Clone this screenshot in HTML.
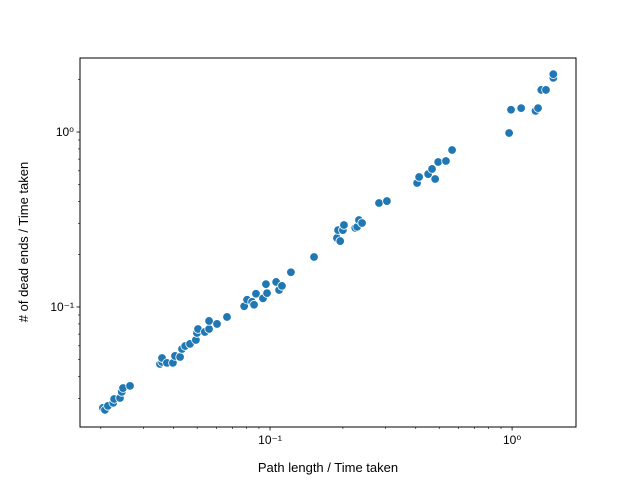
<!DOCTYPE html>
<html><head><meta charset="utf-8"><style>body{margin:0;background:#fff}svg{display:block}text{font-family:"Liberation Sans","DejaVu Sans",sans-serif}</style></head>
<body>
<svg id="chart" width="640" height="480" xmlns="http://www.w3.org/2000/svg">
<rect x="0" y="0" width="640" height="480" fill="#fff"/>
<g id="plot"></g>
<text x="328" y="472" font-size="13" text-anchor="middle">Path length / Time taken</text>
<text transform="translate(28,242) rotate(-90)" font-size="13" text-anchor="middle"># of dead ends / Time taken</text>
</svg>
<script>
const xVals=[0.0204,0.0208,0.0214,0.0225,0.0227,0.0240,0.0244,0.0247,0.0264,0.0351,0.0358,0.0358,0.0375,0.0397,0.0405,0.0425,0.0433,0.0446,0.0467,0.0494,0.0499,0.0504,0.0538,0.0560,0.0560,0.0604,0.0664,0.0782,0.0804,0.0843,0.0859,0.0875,0.0935,0.0972,0.0962,0.106,0.109,0.112,0.122,0.152,0.189,0.195,0.191,0.200,0.202,0.225,0.229,0.233,0.240,0.282,0.304,0.405,0.413,0.450,0.467,0.481,0.495,0.533,0.565,0.972,0.990,1.09,1.25,1.28,1.32,1.38,1.48,1.48];
const yVals=[0.0265,0.0258,0.0272,0.0283,0.0298,0.0302,0.0327,0.0344,0.0354,0.0472,0.0485,0.0511,0.0479,0.0479,0.0525,0.0518,0.0575,0.0598,0.0615,0.0648,0.0710,0.0748,0.0720,0.0748,0.0832,0.0800,0.0877,0.101,0.110,0.107,0.103,0.119,0.112,0.120,0.135,0.139,0.125,0.132,0.158,0.193,0.248,0.238,0.275,0.275,0.294,0.283,0.287,0.314,0.302,0.393,0.403,0.511,0.553,0.575,0.615,0.539,0.674,0.683,0.789,0.987,1.34,1.37,1.32,1.37,1.74,1.74,2.04,2.14];
const xMajorLabels=["10⁻¹","10⁰"];
const yMajorLabels=["10⁻¹","10⁰"];
const L=80,R=576,T=58,B=427;
const xLmin=-1.785,xLmax=0.264,yLmin=-1.686,yLmax=0.423;
const sx=v=>L+(Math.log10(v)-xLmin)/(xLmax-xLmin)*(R-L);
const sy=v=>B-(Math.log10(v)-yLmin)/(yLmax-yLmin)*(B-T);
const NS="http://www.w3.org/2000/svg";
const g=document.getElementById('plot');
function mk(t,a){const e=document.createElementNS(NS,t);for(const k in a)e.setAttribute(k,a[k]);g.appendChild(e);return e;}
for(let i=0;i<xVals.length;i++){
 const c=mk('circle',{cx:sx(xVals[i]),cy:sy(yVals[i]),r:4.3,fill:'#1f77b4',stroke:'#fff','stroke-width':0.8});
 
 
}
const fr=mk('rect',{x:L,y:T,width:R-L,height:B-T,fill:'none',stroke:'#000','stroke-width':1});


for(let e=-2;e<=0;e++)for(let m=1;m<10;m++){
 const v=m*Math.pow(10,e);const x=sx(v);if(x<L||x>R)continue;
 const tk=mk('line',{x1:x,x2:x,y1:B,y2:B+(m==1?3.5:2),stroke:'#000','stroke-width':m==1?0.8:0.6});
 
 
 if(m==1){const lb=mk('text',{x:x,y:B+17,'font-size':12,'text-anchor':'middle'});lb.textContent=xMajorLabels[e+1];
 
 }
}
for(let e=-2;e<=0;e++)for(let m=1;m<10;m++){
 const v=m*Math.pow(10,e);const y=sy(v);if(y<T||y>B)continue;
 const tk=mk('line',{x1:L,x2:L-(m==1?3.5:2),y1:y,y2:y,stroke:'#000','stroke-width':m==1?0.8:0.6});
 
 
 if(m==1){const lb=mk('text',{x:L-6,y:y+4,'font-size':12,'text-anchor':'end'});lb.textContent=yMajorLabels[e+1];
 
 }
}
</script>
</body></html>
